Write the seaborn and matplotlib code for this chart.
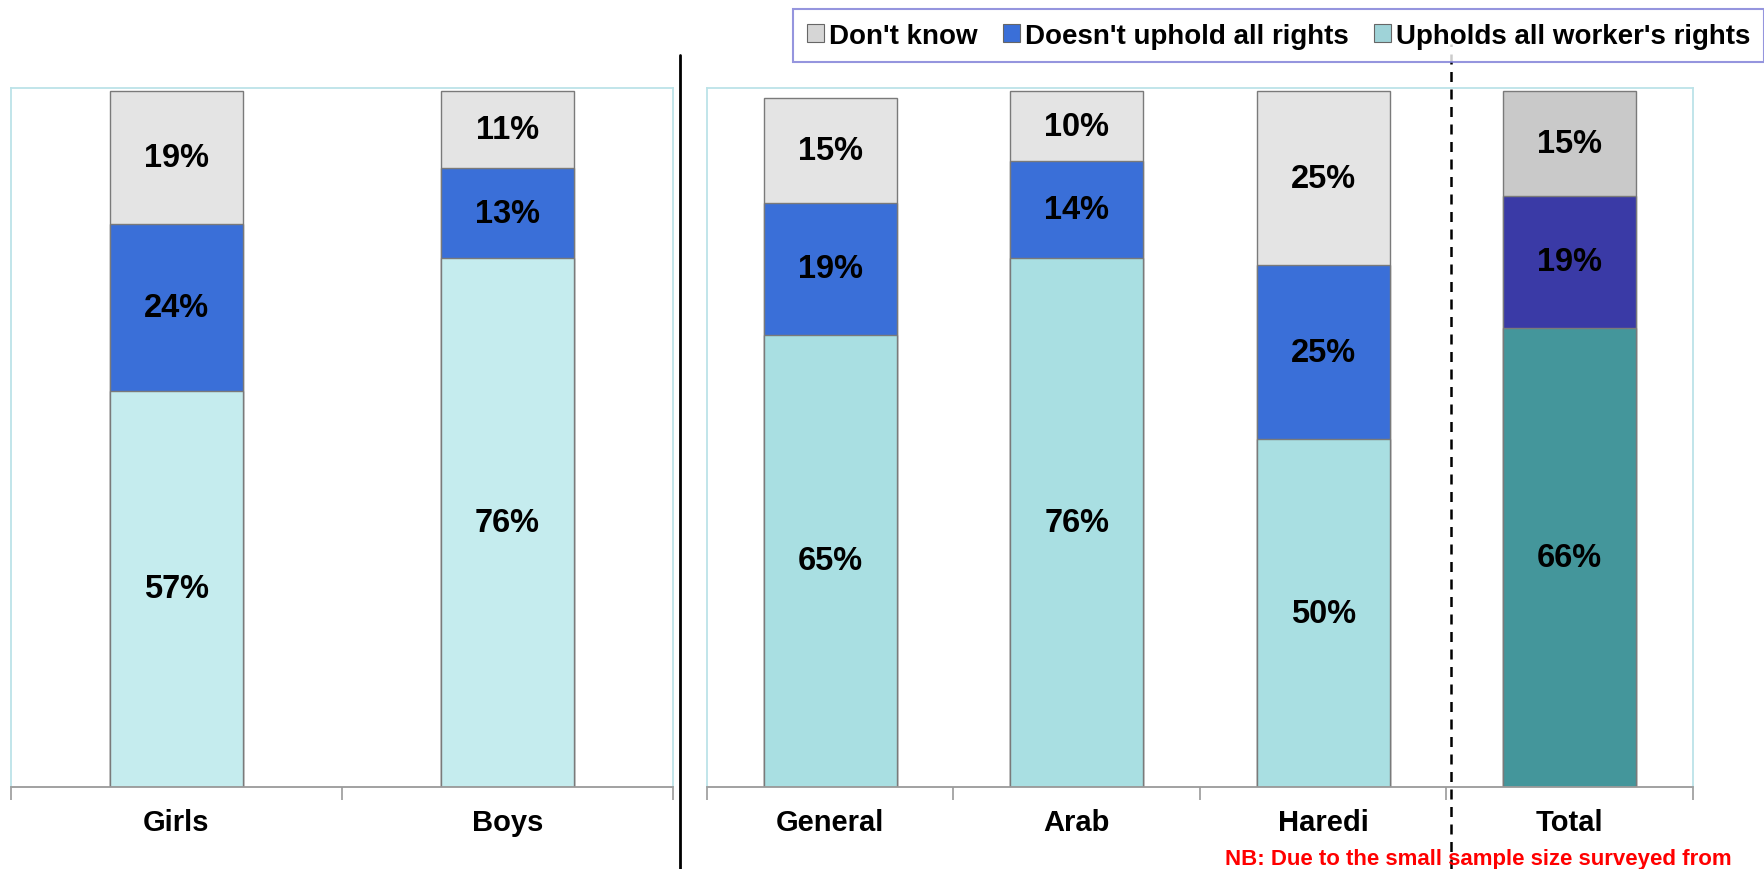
import numpy as np
import pandas as pd
import matplotlib
matplotlib.use("Agg")
import matplotlib.pyplot as plt
import seaborn as sns
from matplotlib.patches import Patch
from matplotlib.lines import Line2D

# Data
left_groups = ["Girls", "Boys"]
left_upholds = [57, 76]
left_not_uphold = [24, 13]
left_dont_know = [19, 11]

right_groups = ["General", "Arab", "Haredi", "Total"]
right_upholds = [65, 76, 50, 66]
right_not_uphold = [19, 14, 25, 19]
right_dont_know = [15, 10, 25, 15]

legend_labels = ["Don't know", "Doesn't uphold all rights", "Upholds all worker's rights"]

# Colours
grey, grey_total = "#E4E4E4", "#C9C9C9"
blue, blue_total = "#3A6FD8", "#3A3AA6"
teal_light, teal, teal_total = "#C5ECEE", "#A9DFE2", "#44969B"

sns.set_theme(style="white")
plt.rcParams["font.family"] = ["Liberation Sans", "DejaVu Sans"]
plt.rcParams["text.color"] = "black"
plt.rcParams["xtick.color"] = "black"

fig = plt.figure(figsize=(17.65, 8.7), dpi=100)
ax1 = fig.add_axes([11 / 1765, 1 - 788 / 870, 662 / 1765, 699 / 870])
ax2 = fig.add_axes([707 / 1765, 1 - 788 / 870, 986 / 1765, 699 / 870])


def draw_panel(ax, groups, upholds, not_uphold, dont_know, pals, width):
    df = pd.DataFrame({"group": groups, "up": upholds, "no": not_uphold, "dk": dont_know})
    df["c1"] = df["up"]
    df["c2"] = df["up"] + df["no"]
    df["c3"] = df["c2"] + df["dk"]
    # draw cumulative bars back to front
    for col, pal in zip(["c3", "c2", "c1"], pals):
        sns.barplot(data=df, x="group", y=col, hue="group", palette=pal, legend=False,
                    width=width, saturation=1, edgecolor="#7a7a7a", linewidth=1, ax=ax)
    for i, row in df.iterrows():
        for bot, v in [(0, row["up"]), (row["c1"], row["no"]), (row["c2"], row["dk"])]:
            ax.text(i, bot + v / 2, f"{v}%", ha="center", va="center",
                    fontsize=23.5, fontweight="bold", color="black")
    n = len(groups)
    ax.set_xlim(-0.5, n - 0.5)
    ax.set_ylim(0, 100.5)
    ax.set_xticks(np.arange(n + 1) - 0.5)
    ax.set_xticklabels([])
    ax.set_xticks(np.arange(n), minor=True)
    ax.set_xticklabels(groups, minor=True, fontsize=21, fontweight="bold", color="black")
    ax.tick_params(axis="x", which="major", length=9, width=1.2, color="#9a9a9a", bottom=True)
    ax.tick_params(axis="x", which="minor", length=0, pad=15)
    ax.set_yticks([])
    ax.set_xlabel("")
    ax.set_ylabel("")
    for s in ["top", "left", "right"]:
        ax.spines[s].set_color("#BCE3E8")
        ax.spines[s].set_linewidth(1.3)
    ax.spines["bottom"].set_color("#9a9a9a")
    ax.spines["bottom"].set_linewidth(1.3)


draw_panel(ax1, left_groups, left_upholds, left_not_uphold, left_dont_know,
           [[grey] * 2, [blue] * 2, [teal_light] * 2], 0.4)
draw_panel(ax2, right_groups, right_upholds, right_not_uphold, right_dont_know,
           [[grey] * 3 + [grey_total], [blue] * 3 + [blue_total], [teal] * 3 + [teal_total]], 0.54)

# separators
fig.add_artist(Line2D([680 / 1765] * 2, [0, 1 - 56 / 870], color="black", lw=2))
fig.add_artist(Line2D([1451 / 1765] * 2, [0, 1 - 45 / 870], color="black", lw=1.8,
                      linestyle=(0, (4, 3))))

# legend
handles = [Patch(facecolor=c, edgecolor="#666666", linewidth=0.8) for c in ["#D6D6D6", blue, "#9FD3D8"]]
leg = fig.legend(handles, legend_labels, loc="center", bbox_to_anchor=(0.7245, 0.958), ncol=3,
                 prop={"weight": "bold", "size": 20}, frameon=True, fancybox=False,
                 edgecolor="#7B7BD6", handlelength=0.6, handleheight=0.6, handletextpad=0.2,
                 columnspacing=0.9, borderpad=0.5)
leg.get_frame().set_linewidth(1.5)
for t in leg.get_texts():
    t.set_color("black")

fig.text(1225 / 1765, 0.006, "NB: Due to the small sample size surveyed from",
         color="red", fontsize=16, fontweight="bold", ha="left", va="baseline")

fig.savefig("out.png", dpi=100)
